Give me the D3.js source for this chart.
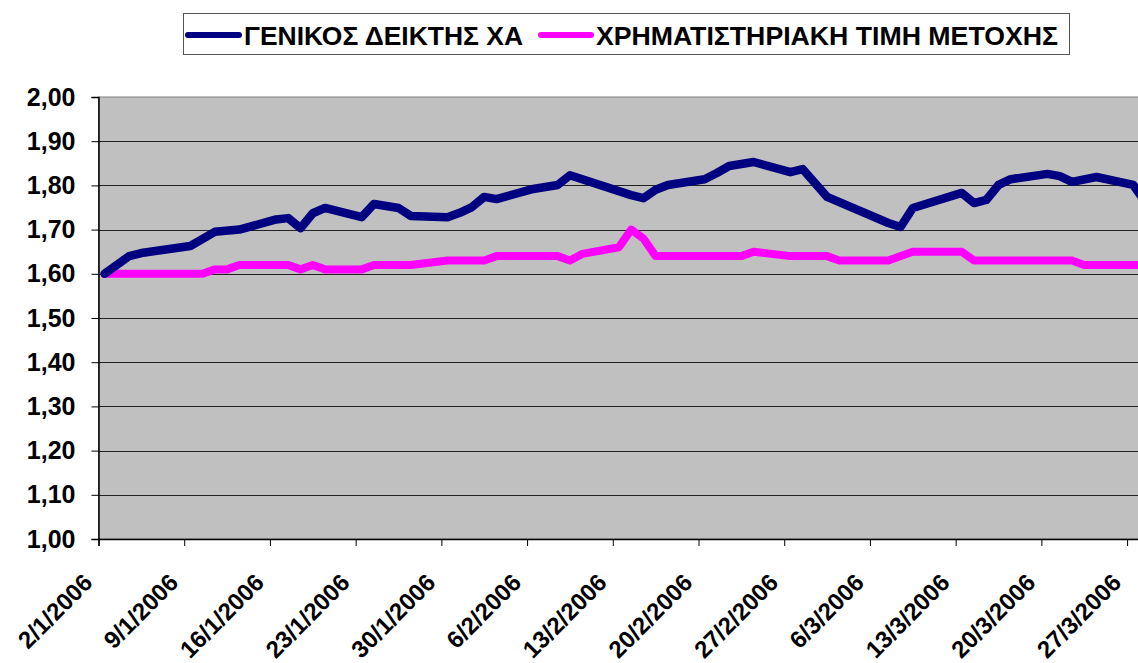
<!DOCTYPE html>
<html>
<head>
<meta charset="utf-8">
<script src="https://cdn.jsdelivr.net/npm/d3@7"></script>
<style>
	body { margin: 0; background: white; }
	svg { display: block; font-family: "Liberation Sans", Arial, sans-serif; }
</style>
</head>
<body>
<svg id="chart"></svg>
<script>
// ΓΕΝΙΚΟΣ ΔΕΙΚΤΗΣ ΧΑ (normalised)
var indexDates = ["2/1/2006", "4/1/2006", "5/1/2006", "9/1/2006", "11/1/2006", "13/1/2006", "16/1/2006",
	"17/1/2006", "18/1/2006", "19/1/2006", "20/1/2006", "23/1/2006", "24/1/2006", "26/1/2006", "27/1/2006",
	"30/1/2006", "31/1/2006", "1/2/2006", "2/2/2006", "3/2/2006", "6/2/2006", "8/2/2006", "9/2/2006",
	"14/2/2006", "15/2/2006", "16/2/2006", "17/2/2006", "20/2/2006", "21/2/2006", "22/2/2006", "24/2/2006",
	"27/2/2006", "28/2/2006", "2/3/2006", "7/3/2006", "8/3/2006", "9/3/2006", "13/3/2006", "14/3/2006",
	"15/3/2006", "16/3/2006", "17/3/2006", "20/3/2006", "21/3/2006", "22/3/2006", "24/3/2006", "27/3/2006",
	"28/3/2006"];
var indexValues = [1.600, 1.640, 1.647, 1.663, 1.695, 1.700, 1.723,
	1.726, 1.703, 1.737, 1.749, 1.728, 1.758, 1.749, 1.731,
	1.728, 1.738, 1.751, 1.774, 1.769, 1.792, 1.801, 1.823,
	1.778, 1.771, 1.790, 1.801, 1.814, 1.828, 1.844, 1.853,
	1.830, 1.837, 1.774, 1.715, 1.706, 1.749, 1.783, 1.760,
	1.767, 1.801, 1.814, 1.826, 1.821, 1.808, 1.819, 1.801,
	1.762];

// ΧΡΗΜΑΤΙΣΤΗΡΙΑΚΗ ΤΙΜΗ ΜΕΤΟΧΗΣ (normalised)
var priceDates = ["2/1/2006", "10/1/2006", "11/1/2006", "12/1/2006", "13/1/2006", "17/1/2006", "18/1/2006",
	"19/1/2006", "20/1/2006", "23/1/2006", "24/1/2006", "27/1/2006", "30/1/2006", "2/2/2006", "3/2/2006",
	"8/2/2006", "9/2/2006", "10/2/2006", "13/2/2006", "14/2/2006", "15/2/2006", "16/2/2006", "23/2/2006",
	"24/2/2006", "27/2/2006", "2/3/2006", "3/3/2006", "7/3/2006", "9/3/2006", "13/3/2006", "14/3/2006",
	"22/3/2006", "23/3/2006", "28/3/2006"];
var priceValues = [1.60, 1.60, 1.61, 1.61, 1.62, 1.62, 1.61,
	1.62, 1.61, 1.61, 1.62, 1.62, 1.63, 1.63, 1.64,
	1.64, 1.63, 1.645, 1.66, 1.70, 1.68, 1.64, 1.64,
	1.65, 1.64, 1.64, 1.63, 1.63, 1.65, 1.65, 1.63,
	1.63, 1.62, 1.62];

var seriesNames = ["ΓΕΝΙΚΟΣ ΔΕΙΚΤΗΣ ΧΑ", "ΧΡΗΜΑΤΙΣΤΗΡΙΑΚΗ ΤΙΜΗ ΜΕΤΟΧΗΣ"];
var seriesColors = ["#000080", "#FF00FF"];

var tickLabels = ["2/1/2006", "9/1/2006", "16/1/2006", "23/1/2006", "30/1/2006", "6/2/2006", "13/2/2006",
	"20/2/2006", "27/2/2006", "6/3/2006", "13/3/2006", "20/3/2006", "27/3/2006"];
var yTicks = [1.0, 1.1, 1.2, 1.3, 1.4, 1.5, 1.6, 1.7, 1.8, 1.9, 2.0];

const width = 1138;
const height = 663;
const plotLeft = 98.5, plotTop = 97, plotBottom = 539;

var parse = d3.utcParse("%d/%m/%Y");
var start = parse("2/1/2006");
var end = parse("31/3/2006");

var svg = d3.select("#chart").attr("width", width).attr("height", height);

var x = d3.scaleUtc()
	.domain([start, end])
	.range([plotLeft, plotLeft + 88 * 12.245]);
var y = d3.scaleLinear()
	.domain([1, 2])
	.range([plotBottom, plotTop]);

// points sit in the middle of their day
function mid(s) { return d3.utcHour.offset(parse(s), 12); }

// plot area
svg.append("rect")
	.attr("x", plotLeft).attr("y", plotTop)
	.attr("width", x.range()[1] - plotLeft).attr("height", plotBottom - plotTop)
	.attr("fill", "#C0C0C0")
	.attr("stroke", "#808080");

svg.append("g")
	.selectAll("line")
	.data(yTicks.slice(1, -1))
	.enter()
	.append("line")
	.attr("x1", plotLeft).attr("x2", x.range()[1])
	.attr("y1", function (d) { return Math.round(y(d)) + 0.5; })
	.attr("y2", function (d) { return Math.round(y(d)) + 0.5; })
	.attr("stroke", "#222")
	.attr("stroke-width", 1);

// y axis
var yAxis = svg.append("g")
	.attr("transform", "translate(" + plotLeft + ",0)")
	.call(d3.axisLeft(y).tickValues(yTicks).tickSize(7).tickPadding(16)
		.tickFormat(function (d) { return d3.format(".2f")(d).replace(".", ","); }));
yAxis.selectAll("text")
	.attr("font-size", "25px").attr("font-weight", "bold").attr("fill", "black")
	.attr("font-family", "'Liberation Sans', Arial, sans-serif");
yAxis.select(".domain").attr("stroke", "black").attr("stroke-width", 1.5);
yAxis.selectAll(".tick line").attr("stroke", "black");

// x axis
var xAxis = svg.append("g")
	.attr("transform", "translate(0," + plotBottom + ")")
	.call(d3.axisBottom(x).tickValues(tickLabels.map(parse)).tickSize(7)
		.tickFormat(function (d, i) { return tickLabels[i]; }));
xAxis.select(".domain").attr("stroke", "black").attr("stroke-width", 1.5);
xAxis.selectAll(".tick line").attr("stroke", "black");
xAxis.selectAll("text")
	.attr("font-size", "24px").attr("font-weight", "bold").attr("fill", "black")
	.attr("font-family", "'Liberation Sans', Arial, sans-serif")
	.attr("text-anchor", "end")
	.attr("dy", null)
	.attr("y", 0)
	.attr("transform", "translate(-5,45) rotate(-45)");

// lines
var line = d3.line()
	.x(function (d) { return x(d.date); })
	.y(function (d) { return y(d.value); });

var indexData = indexDates.map(function (d, i) { return { date: mid(d), value: indexValues[i] }; });
var priceData = priceDates.map(function (d, i) { return { date: mid(d), value: priceValues[i] }; });

svg.append("path")
	.datum(priceData)
	.attr("d", line)
	.attr("fill", "none")
	.attr("stroke", seriesColors[1])
	.attr("stroke-width", 8)
	.attr("stroke-linejoin", "round")
	.attr("stroke-linecap", "round");

svg.append("path")
	.datum(indexData)
	.attr("d", line)
	.attr("fill", "none")
	.attr("stroke", seriesColors[0])
	.attr("stroke-width", 8.5)
	.attr("stroke-linejoin", "round")
	.attr("stroke-linecap", "round");

// legend
var legend = svg.append("g");
legend.append("rect")
	.attr("x", 183.5).attr("y", 13.5)
	.attr("width", 886).attr("height", 41)
	.attr("fill", "white")
	.attr("stroke", "#555");

var legendItems = [
	{ x1: 188, x2: 239, tx: 244, tw: 279 },
	{ x1: 541, x2: 591, tx: 596, tw: 462 }
];
legendItems.forEach(function (d, i) {
	legend.append("line")
		.attr("x1", d.x1).attr("x2", d.x2)
		.attr("y1", 35).attr("y2", 35)
		.attr("stroke", seriesColors[i])
		.attr("stroke-width", 6)
		.attr("stroke-linecap", "round");
	legend.append("text")
		.attr("x", d.tx).attr("y", 45)
		.attr("font-size", "26px").attr("font-weight", "bold")
		.attr("textLength", d.tw).attr("lengthAdjust", "spacingAndGlyphs")
		.text(seriesNames[i]);
});
</script>
</body>
</html>
